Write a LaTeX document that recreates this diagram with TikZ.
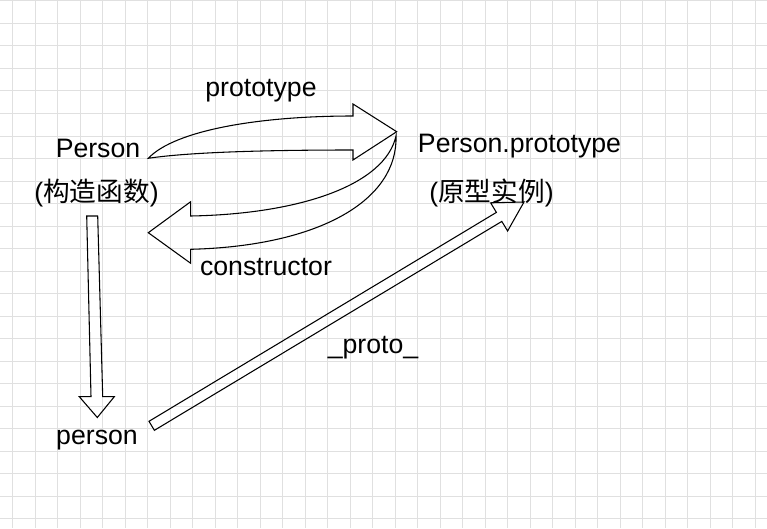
\documentclass[tikz,border=0pt]{standalone}
\usepackage{fontspec}
\setmainfont{Liberation Sans}
\newfontfamily\cjk{Noto Sans CJK SC}
\definecolor{gridgray}{RGB}{224,224,224}
\begin{document}
\begin{tikzpicture}[x=0.75pt,y=-0.75pt,
  lbl/.style={anchor=base,inner sep=0pt,font=\fontsize{20}{24}\selectfont},
  blockarrow/.style={draw=black,line width=0.8pt,line join=miter}]
\useasboundingbox (0,0) rectangle (767,528);
% grid
\foreach \k in {0,...,33} \draw[gridgray,line width=0.75pt] ({12.8+22.5*\k},0) -- ({12.8+22.5*\k},528);
\foreach \k in {0,...,23} \draw[gridgray,line width=0.75pt] (0,{1+22.5*\k}) -- (767,{1+22.5*\k});
% labels
\node[lbl] (lproto) at (261,96) {prototype};
\node[lbl] (Person) at (98,157) {Person};
\node[lbl] (ctor) at (96.5,201) {(\cjk 构造函数\rmfamily)};
\node[lbl] (PP) at (519.5,152.3) {Person.prototype};
\node[lbl] (inst) at (491.5,201) {(\cjk 原型实例\rmfamily)};
\node[lbl] (lctor) at (266,275) {constructor};
\node[lbl] (l__proto) at (373,353) {\_proto\_};
\node[lbl] (person) at (97,444.3) {person};
% prototype arrow (Person -> Person.prototype)
\draw[blockarrow] (148.3,158.3) .. controls (175,130) and (260,116) .. (353,116)
  -- (353,104) -- (396.7,131.7) -- (353,160) -- (353,150)
  .. controls (270,150) and (190,152) .. cycle;
% constructor arrow (Person.prototype -> Person)
\draw[blockarrow] (396,136) .. controls (385,185) and (300,214) .. (190.7,216)
  -- (190.7,201.7) -- (148.3,232.7) -- (190.7,263.3) -- (190.7,249.3)
  .. controls (320,246) and (398,200) .. cycle;
% Person -> person
\draw[blockarrow] (86.7,216) -- (97.7,216) -- (102.7,396.7) -- (114.3,396.7)
  -- (97.3,417.5) -- (79.3,396.7) -- (91,396.7) -- cycle;
% person -> Person.prototype (__proto__)
\draw[blockarrow] (149,421.3) -- (496.4,212.4) -- (490.6,202.8) -- (524,202)
  -- (507.6,231) -- (501.8,221.4) -- (154.4,430.3) -- cycle;
\end{tikzpicture}
\end{document}
